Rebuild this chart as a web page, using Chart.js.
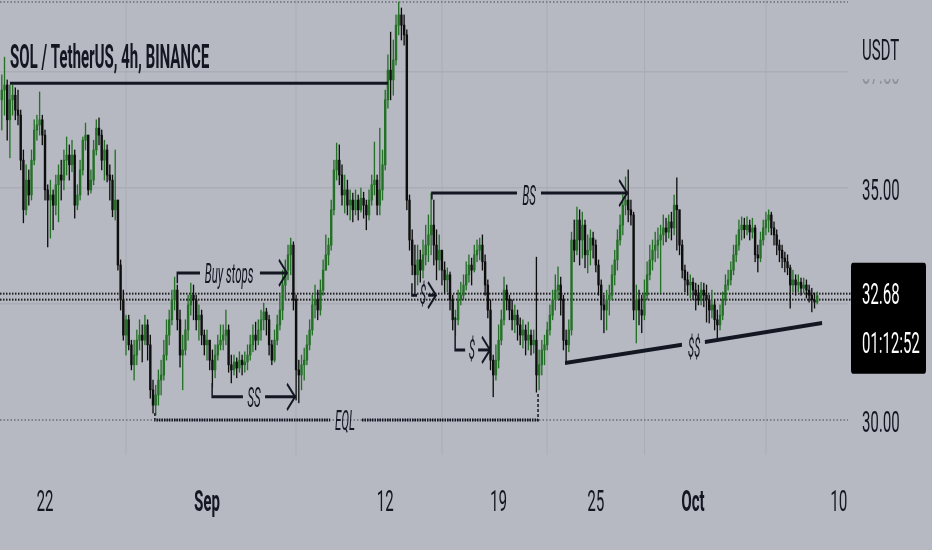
<!DOCTYPE html>
<html>
<head>
<meta charset="utf-8">
<script src="https://cdn.jsdelivr.net/npm/chart.js@4.4.1/dist/chart.umd.min.js"></script>
<style>
  html, body { margin: 0; padding: 0; width: 932px; height: 550px; overflow: hidden; background: #b6b9c1; }
  /* the reference screenshot is squeezed horizontally, so the chart is drawn twice as wide and scaled down */
  #wrap { width: 1864px; height: 550px; transform: scaleX(0.5); transform-origin: 0 0; }
  canvas { display: block; }
</style>
</head>
<body>
<div id="wrap"><canvas id="chart" width="1864" height="550"></canvas></div>
<script>
// SOL / USDT 4h candles (open = previous close)
const firstOpen = 36.90;
const closes = [
  37.11, 37.22, 36.47, 36.90, 37.00, 36.68, 36.57, 35.60, 34.53, 35.17, 34.85, 35.60, 36.25, 36.36, 36.47, 36.14,
  34.96, 34.74, 34.85, 34.63, 35.07, 35.28, 35.17, 35.60, 35.71, 35.50, 35.71, 34.63, 34.85, 35.39, 36.03,
  36.14, 34.96, 35.17, 35.82, 36.29, 36.14, 35.60, 35.82, 35.28, 35.17, 34.53, 34.74, 33.34, 32.59, 31.83, 32.16, 31.62, 31.19, 31.40, 31.72,
  31.83, 31.72, 32.05, 31.62, 30.65, 30.32, 30.54, 30.86, 30.97, 31.40, 31.83, 32.16, 32.59, 32.80, 32.16, 31.40, 31.51, 31.94, 32.48, 32.69,
  32.59, 32.16, 32.26, 31.83, 31.62, 31.72, 31.29, 31.08, 31.40, 31.62, 31.72, 31.83, 31.94, 31.19, 31.08, 31.25, 31.12, 31.29, 31.19, 31.25,
  31.40, 31.62, 31.83, 31.72, 31.94, 32.16, 32.33, 32.16, 31.62, 31.29, 31.72, 32.05, 32.37, 32.91, 33.23, 33.56, 33.77, 32.59, 31.08, 30.97,
  31.19, 31.29, 31.62, 31.94, 32.48, 32.59, 32.37, 32.80, 33.23, 33.56, 33.77, 34.53, 35.39, 35.60, 35.28, 34.85, 34.96, 34.63, 34.74, 34.53,
  34.74, 34.53, 34.78, 34.63, 34.42, 34.74, 35.07, 35.17, 34.63, 34.96, 35.50, 36.90, 37.54, 37.33, 37.76, 38.51, 38.73, 38.51, 38.30, 34.74,
  33.88, 33.34, 33.13, 33.45, 33.23, 33.56, 33.77, 33.99, 34.20, 33.77, 33.45, 33.66, 33.23, 33.02, 33.13, 32.59, 32.16, 32.16, 32.59, 32.69,
  32.91, 33.13, 33.34, 33.23, 33.56, 33.66, 33.77, 33.41, 32.91, 32.37, 31.29, 30.97, 31.29, 31.72, 32.16, 32.80, 32.59, 32.37, 32.16, 32.26,
  32.05, 31.83, 31.94, 31.72, 31.83, 31.62, 31.72, 30.97, 31.19, 31.51, 31.62, 31.94, 32.26, 32.59, 32.80, 32.91, 32.59, 31.72, 31.62, 31.94,
  33.88, 33.66, 34.31, 33.88, 34.20, 33.56, 33.66, 33.92, 33.77, 33.34, 32.91, 32.48, 32.37, 32.59, 32.69, 33.13, 33.45, 33.88, 34.20, 34.63,
  34.74, 34.53, 34.42, 32.37, 32.59, 32.37, 32.26, 32.69, 33.13, 33.45, 33.66, 33.77, 33.88, 33.99, 34.14, 34.05, 34.27, 34.14, 34.63, 34.53,
  33.77, 33.23, 33.02, 32.91, 32.97, 32.80, 32.69, 32.59, 32.80, 32.69, 32.59, 32.37, 32.48, 32.16, 32.05, 32.26, 32.59, 32.91, 33.02, 33.23,
  33.56, 33.77, 34.10, 34.20, 34.10, 34.20, 34.05, 34.14, 33.56, 33.49, 33.88, 34.14, 34.31, 34.42, 34.14, 33.99, 33.77, 33.66, 33.49, 33.41,
  33.28, 32.91, 33.02, 32.91, 32.97, 32.84, 32.91, 32.80, 32.69, 32.59, 32.54, 32.68
];
const highs = [
  37.44, 37.82, 37.33, 37.22, 37.22, 37.16, 37.11, 36.68, 35.82, 35.50, 35.39, 35.82, 36.47, 36.57, 37.07, 36.57,
  36.25, 35.07, 35.17, 34.96, 35.28, 35.50, 35.60, 35.82, 36.10, 35.93, 36.03, 35.82, 35.07, 35.60, 36.10,
  36.40, 36.14, 35.39, 36.03, 36.47, 36.51, 36.25, 36.03, 35.93, 35.50, 35.28, 35.82, 34.74, 33.45, 32.80, 32.26, 32.26, 31.72, 31.72, 31.94,
  32.16, 32.05, 32.26, 32.16, 31.83, 30.86, 30.75, 31.08, 31.29, 31.72, 32.16, 32.37, 32.80, 33.08, 32.91, 32.37, 31.83, 32.16, 32.69, 32.95,
  32.91, 32.69, 32.48, 32.37, 31.94, 31.94, 31.72, 31.51, 31.62, 31.83, 32.05, 32.05, 32.37, 32.05, 31.40, 31.40, 31.34, 31.47, 31.40, 31.47,
  31.62, 31.83, 32.05, 32.11, 32.16, 32.37, 32.52, 32.41, 32.26, 31.72, 31.94, 32.26, 32.69, 33.23, 33.45, 33.77, 33.92, 33.84, 32.69, 31.29,
  31.40, 31.55, 31.83, 32.16, 32.69, 32.91, 32.80, 33.02, 33.45, 33.99, 33.92, 34.74, 35.60, 35.97, 35.93, 35.50, 35.28, 35.17, 34.96, 34.89,
  34.96, 34.85, 35.00, 34.91, 34.74, 34.96, 35.28, 35.99, 35.28, 36.29, 35.82, 37.11, 37.87, 38.36, 38.19, 38.73, 39.01, 38.88, 38.73, 38.41,
  34.85, 34.10, 33.77, 33.77, 33.66, 33.88, 34.20, 34.42, 34.89, 34.74, 34.10, 33.99, 33.56, 33.41, 33.28, 33.19, 32.69, 32.37, 32.80, 32.97,
  33.13, 33.41, 33.56, 33.49, 33.77, 33.88, 33.92, 33.99, 33.56, 33.02, 32.59, 31.40, 31.62, 32.05, 32.37, 33.08, 32.91, 32.69, 32.59, 32.48,
  32.37, 32.20, 32.16, 32.05, 32.11, 31.94, 31.94, 33.51, 31.51, 31.72, 31.83, 32.11, 32.48, 32.80, 33.13, 33.30, 33.08, 32.69, 31.94, 32.16,
  34.05, 34.31, 34.59, 34.53, 34.48, 34.31, 33.99, 34.10, 34.05, 33.88, 33.45, 33.02, 32.69, 32.80, 32.91, 33.34, 33.66, 34.10, 34.42, 34.85,
  35.24, 35.39, 34.74, 34.48, 32.91, 32.80, 32.69, 33.02, 33.41, 33.77, 33.88, 34.05, 34.14, 34.20, 34.42, 34.35, 34.42, 34.48, 34.85, 35.22,
  34.53, 33.88, 33.34, 33.19, 33.13, 33.06, 32.95, 32.91, 32.97, 32.95, 32.91, 32.69, 32.80, 32.59, 32.37, 32.48, 32.76, 33.13, 33.23, 33.41,
  33.77, 33.99, 34.31, 34.38, 34.35, 34.38, 34.31, 34.35, 34.20, 33.77, 34.05, 34.31, 34.48, 34.53, 34.48, 34.27, 34.10, 33.88, 33.77, 33.62,
  33.56, 33.34, 33.23, 33.13, 33.13, 33.06, 33.06, 33.02, 32.91, 32.84, 32.74, 32.76
];
const lows = [
  36.25, 36.57, 36.03, 35.65, 36.57, 36.47, 36.36, 35.39, 34.25, 34.42, 34.63, 34.74, 35.50, 36.03, 36.14, 35.93,
  34.74, 33.73, 33.92, 34.10, 34.42, 34.27, 34.74, 34.96, 35.28, 35.17, 35.35, 34.35, 34.53, 34.74, 35.28,
  35.82, 34.85, 34.89, 35.07, 35.71, 35.93, 35.39, 35.17, 35.13, 34.74, 34.38, 34.31, 33.23, 32.37, 31.72, 31.40, 31.51, 31.08, 30.86, 31.19,
  31.51, 31.25, 31.62, 31.29, 30.47, 30.15, 30.11, 30.32, 30.54, 30.86, 31.29, 31.62, 32.05, 32.37, 31.94, 31.14, 30.65, 31.40, 31.72, 32.26,
  32.16, 31.94, 31.72, 31.62, 31.40, 31.29, 31.08, 30.71, 30.91, 31.29, 31.51, 31.51, 31.62, 31.03, 30.80, 30.97, 30.91, 31.03, 30.97, 31.03,
  31.08, 31.29, 31.47, 31.51, 31.62, 31.72, 31.94, 31.83, 31.40, 31.19, 31.25, 31.62, 31.94, 32.16, 32.59, 33.02, 33.13, 32.37, 30.43, 30.37,
  30.65, 30.86, 31.19, 31.51, 31.83, 32.20, 32.16, 32.26, 32.69, 33.23, 33.34, 33.66, 34.42, 35.17, 35.07, 34.63, 34.46, 34.42, 34.31, 34.27,
  34.42, 34.31, 34.48, 34.35, 34.10, 34.31, 34.63, 34.85, 34.42, 34.42, 34.74, 35.39, 36.72, 36.90, 37.00, 37.65, 38.30, 38.19, 38.08, 34.53,
  33.66, 33.13, 32.74, 32.91, 32.97, 33.06, 33.34, 33.41, 33.56, 33.34, 33.02, 33.23, 32.91, 32.74, 32.76, 32.37, 31.94, 31.83, 32.05, 32.48,
  32.59, 32.80, 32.97, 32.91, 33.19, 33.41, 33.45, 33.23, 32.69, 32.20, 31.08, 30.50, 30.86, 31.12, 31.62, 32.05, 32.37, 32.16, 31.94, 31.88,
  31.72, 31.62, 31.55, 31.40, 31.51, 31.40, 31.44, 30.60, 30.65, 30.97, 31.19, 31.51, 31.83, 32.16, 32.37, 32.59, 32.26, 31.51, 31.23, 31.47,
  31.83, 33.41, 33.56, 33.34, 33.49, 33.28, 33.17, 33.34, 33.49, 33.19, 32.69, 32.16, 31.88, 31.94, 32.26, 32.59, 32.91, 33.23, 33.77, 33.99,
  34.42, 34.27, 34.20, 32.16, 31.66, 32.05, 31.88, 32.16, 32.59, 33.02, 33.23, 33.41, 33.49, 32.74, 33.77, 33.84, 33.92, 33.88, 33.99, 33.66,
  33.56, 33.06, 32.76, 32.69, 32.63, 32.59, 32.37, 32.48, 32.48, 32.44, 32.11, 32.09, 32.20, 31.94, 31.77, 31.94, 32.16, 32.48, 32.80, 32.91,
  33.13, 33.41, 33.66, 33.88, 33.92, 33.99, 33.88, 33.92, 33.41, 33.19, 33.41, 33.77, 33.99, 34.05, 33.99, 33.77, 33.56, 33.41, 33.28, 33.19,
  33.13, 32.41, 32.76, 32.69, 32.76, 32.69, 32.74, 32.63, 32.54, 32.33, 32.41, 32.50
];

// time axis: candle index of each date label
const tickIdx = [16, 76, 142, 184, 220, 256, 310];
const tickLabels = ['22', 'Sep', '12', '19', '25', 'Oct', '10'];
const boldTicks = ['Sep', 'Oct'];
const priceTicks = [30, 32.5, 35, 37.5];
const lastPrice = 32.68;
const countdown = '01:12:52';
const title = 'SOL / TetherUS, 4h, BINANCE';
const currency = 'USDT';

// hand drawings, as [candle index, price] points
const solidLines = [
  [[3, 37.26], [143, 37.26]],
  [[65, 32.95], [65, 33.17], [73.4, 33.17]],
  [[95.6, 33.17], [105.6, 33.17]],
  [[77.9, 30.80], [77.9, 30.50], [89.3, 30.50]],
  [[97.5, 30.50], [108.6, 30.50]],
  [[151.9, 32.95], [151.9, 32.69], [153.8, 32.69]],
  [[157.9, 32.69], [160.8, 32.69]],
  [[167.9, 32.22], [167.9, 31.51], [171.6, 31.51]],
  [[176.4, 31.51], [180.8, 31.51]],
  [[159.3, 34.75], [159.3, 34.89], [190.8, 34.89]],
  [[199.7, 34.89], [231.4, 34.89]],
];
const thickLines = [
  [[208.6, 31.23], [251.9, 31.62]],
  [[260.4, 31.68], [303.8, 32.09]],
];
const dottedLines = [
  [[56.7, 30.15], [56.7, 30.0], [121.6, 30.0]],
  [[133.4, 30.0], [198.6, 30.0], [198.6, 30.6]],
];
const arrowTips = [[105.6, 33.17], [108.6, 30.50], [160.8, 32.69], [180.8, 31.51], [231.6, 34.89]];
const noteTexts = [
  ['Buy stops', 84.2, 33.10],
  ['SS', 93.4, 30.43],
  ['EQL', 127.1, 29.94],
  ['$', 156.0, 32.65],
  ['$', 174.1, 31.47],
  ['BS', 195.3, 34.78],
  ['$$', 256.4, 31.51],
];

const BG = '#b6b9c1';
const GRID = '#aaadb6';
const INK = '#131722';
const UP = '#237026';
const DOWN = '#0e0e0e';
const FONT = 'Roboto, "Noto Sans", sans-serif';

const candles = closes.map((c, i) => {
  const o = i === 0 ? firstOpen : closes[i - 1];
  return { i, o, c, h: Math.max(highs[i], o, c), l: Math.min(lows[i], o, c) };
});
const candleColor = ctx => {
  const k = candles[ctx.dataIndex];
  return k && k.c >= k.o ? UP : DOWN;
};

// text drawn with an extra horizontal squeeze
const squeezedText = (ctx, txt, x, y, sx) => {
  ctx.save();
  ctx.translate(x, y);
  ctx.scale(sx, 1);
  ctx.fillText(txt, 0, 0);
  ctx.restore();
};

const drawings = {
  id: 'drawings',
  beforeDraw(chart) {
    const { ctx, width, height } = chart;
    ctx.save();
    ctx.fillStyle = BG;
    ctx.fillRect(0, 0, width, height);
    ctx.restore();
  },
  beforeDatasetsDraw(chart) {
    const { ctx, chartArea: a, scales: { y } } = chart;
    ctx.save();
    ctx.lineWidth = 2;
    ctx.setLineDash([3, 4]);
    ctx.strokeStyle = '#7c7f88';
    [a.top + 2, y.getPixelForValue(30)].forEach(yy => {
      ctx.beginPath(); ctx.moveTo(a.left, yy); ctx.lineTo(a.right, yy); ctx.stroke();
    });
    // current price line
    ctx.strokeStyle = '#1d1d1d';
    ctx.setLineDash([3, 3]);
    const p = y.getPixelForValue(lastPrice);
    [p - 2, p + 4].forEach(yy => {
      ctx.beginPath(); ctx.moveTo(a.left, yy); ctx.lineTo(a.right + 6, yy); ctx.stroke();
    });
    ctx.restore();
  },
  afterDatasetsDraw(chart) {
    const { ctx, scales: { x, y } } = chart;
    const pt = ([i, v]) => [x.getPixelForValue(i), y.getPixelForValue(v)];
    const path = pts => {
      ctx.beginPath();
      pts.map(pt).forEach(([px, py], j) => j ? ctx.lineTo(px, py) : ctx.moveTo(px, py));
      ctx.stroke();
    };
    ctx.save();
    ctx.strokeStyle = INK;
    ctx.lineCap = 'butt';
    ctx.lineJoin = 'miter';
    ctx.lineWidth = 3;
    solidLines.forEach(path);
    ctx.lineWidth = 4;
    thickLines.forEach(path);
    ctx.lineWidth = 3;
    ctx.setLineDash([3, 2]);
    dottedLines.forEach(path);
    ctx.setLineDash([]);
    ctx.lineWidth = 3;
    arrowTips.forEach(t => {
      const [px, py] = pt(t);
      ctx.beginPath();
      ctx.moveTo(px - 16, py - 13); ctx.lineTo(px, py); ctx.lineTo(px - 16, py + 13);
      ctx.stroke();
    });
    ctx.fillStyle = INK;
    ctx.font = 'italic 28px ' + FONT;
    ctx.textAlign = 'center';
    ctx.textBaseline = 'middle';
    noteTexts.forEach(([txt, i, v]) => {
      const [px, py] = pt([i, v]);
      squeezedText(ctx, txt, px, py, 0.82);
    });
    ctx.restore();
  },
  afterDraw(chart) {
    const { ctx, chartArea: a, width, scales: { y } } = chart;
    ctx.save();
    ctx.fillStyle = INK;
    ctx.font = 'bold 33px ' + FONT;
    ctx.textBaseline = 'alphabetic';
    squeezedText(ctx, title, 20, 68, 0.91);
    // currency label covers the top price label
    ctx.fillStyle = BG;
    ctx.fillRect(a.right + 2, 0, width - a.right, 79);
    ctx.fillStyle = INK;
    ctx.font = '30px ' + FONT;
    ctx.fillText(currency, a.right + 28, 60);
    // last price box
    const p = y.getPixelForValue(lastPrice);
    ctx.fillStyle = '#000000';
    ctx.beginPath();
    ctx.roundRect(a.right + 6, p - 33, 150, 111, 4);
    ctx.fill();
    ctx.fillStyle = '#ffffff';
    ctx.textBaseline = 'middle';
    ctx.fillText(lastPrice.toFixed(2), a.right + 28, p + 1);
    ctx.fillText(countdown, a.right + 28, p + 50);
    ctx.restore();
  }
};

new Chart(document.getElementById('chart'), {
  type: 'bar',
  data: {
    datasets: [
      {
        label: 'wick',
        data: candles.map(k => ({ x: k.i, y: [k.l, k.h] })),
        backgroundColor: candleColor,
        barThickness: 2,
        grouped: false,
        order: 2,
      },
      {
        label: 'body',
        data: candles.map(k => ({ x: k.i, y: [k.o, k.c] })),
        backgroundColor: candleColor,
        barThickness: 4.2,
        minBarLength: 1.5,
        grouped: false,
        order: 1,
      },
    ],
  },
  options: {
    responsive: false,
    animation: false,
    events: [],
    layout: { padding: 0 },
    plugins: { legend: { display: false }, tooltip: { enabled: false } },
    scales: {
      x: {
        type: 'linear',
        min: -0.67,
        max: 313.4,
        offset: false,
        afterBuildTicks: s => { s.ticks = tickIdx.map(v => ({ value: v })); },
        afterFit: s => { s.height = 95; s.paddingLeft = 0; s.paddingRight = 0; },
        grid: { color: GRID, lineWidth: 2, drawTicks: false },
        border: { display: false },
        ticks: {
          padding: 30,
          color: INK,
          maxRotation: 0,
          autoSkip: false,
          font: c => ({
            family: FONT, size: 30,
            weight: c.tick && boldTicks.includes(tickLabels[tickIdx.indexOf(c.tick.value)]) ? 'bold' : 'normal',
          }),
          callback: v => tickLabels[tickIdx.indexOf(v)] ?? '',
        },
      },
      y: {
        position: 'right',
        min: 29.246,
        max: 39.052,
        afterBuildTicks: s => { s.ticks = priceTicks.map(v => ({ value: v })); },
        afterFit: s => { s.width = 168; s.paddingTop = 0; s.paddingBottom = 0; },
        grid: { color: c => (c.tick && c.tick.value === 30 ? 'rgba(0,0,0,0)' : GRID), lineWidth: 1.5, drawTicks: false },
        border: { display: false },
        ticks: {
          padding: 28,
          labelOffset: 4,
          color: c => (c.tick && c.tick.value === 37.5 ? '#8e919a' : INK),
          font: { family: FONT, size: 30 },
          callback: v => (v === 32.5 ? '' : v.toFixed(2)),
        },
      },
    },
  },
  plugins: [drawings],
});
</script>
</body>
</html>
